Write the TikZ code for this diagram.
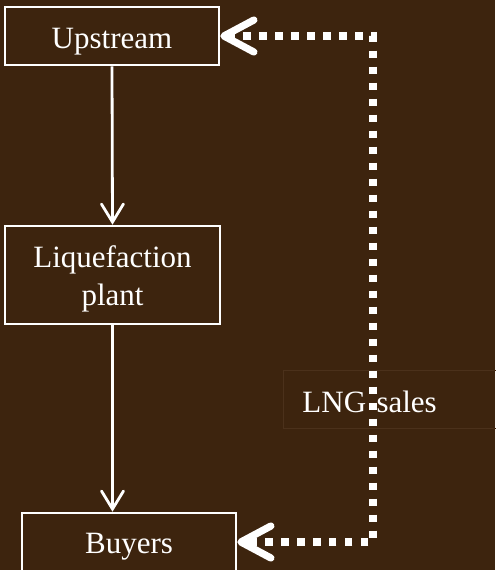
\documentclass[tikz,border=0pt]{standalone}
\usepackage{fontspec}
\setmainfont{Liberation Serif}
\usetikzlibrary{arrows.meta}

\definecolor{bgbrown}{HTML}{3D240E}
\definecolor{labelframe}{HTML}{4B311B}

\tikzset{
	stage/.style={draw=white, line width=1.3pt, text=white, align=center,
		font=\fontsize{15.5pt}{19pt}\selectfont, inner sep=0pt,
		text height=20.5pt, text depth=8.5pt},
	flow/.style={draw=white, line width=1.4pt,
		-{Straight Barb[length=9pt, width=11pt, line cap=round]}},
	sales/.style={draw=white, line width=3.6pt, dash pattern=on 3.6pt off 4.4pt,
		{Straight Barb[length=15pt, width=16pt, line cap=round, line join=round]}-{Straight Barb[length=15pt, width=16pt, line cap=round, line join=round]}},
}

\begin{document}
\begin{tikzpicture}[x=0.5pt, y=-0.5pt]
		% background and frame of the picture
		\fill[bgbrown] (0,0) rectangle (495,570);
		\useasboundingbox (0,0) rectangle (495,570);

		% chain of stages
		\node[stage, minimum width=107pt] (up) at (112,36) {Upstream};
		\node[stage, minimum width=107.5pt, text height=39.5pt, text depth=9.5pt] (liq) at (112.5,275) {Liquefaction\\plant};
		\node[stage, minimum width=107pt, text height=20pt, text depth=9pt] (buy) at (129,542) {Buyers};

		% label of the sales loop
		\node[draw=labelframe, line width=0.5pt, text=white, anchor=west,
			font=\fontsize{15.5pt}{19pt}\selectfont, text height=21pt, text depth=8pt,
			inner ysep=0pt, text width=97pt, align=left, inner xsep=9.5pt] (lng) at (283,399) {LNG sales};

		\coordinate (topturn) at (373,36);
		\coordinate (botturn) at (373,542);

		% flow down the chain
		\draw[flow] (up.south) -- (liq.north);
		\draw[flow] (liq.south) -- (liq.south |- buy.north);

		% sales loop, dotted
		\draw[sales] (up.east) -- (topturn) -- (botturn) -- (buy.east);
	\end{tikzpicture}
\end{document}
